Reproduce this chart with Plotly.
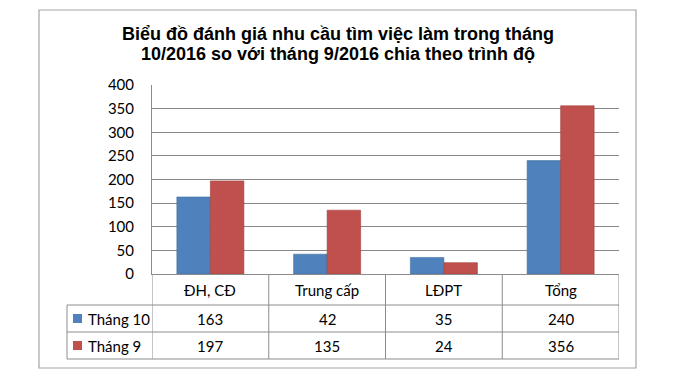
import plotly.graph_objects as go

categories = ["ĐH, CĐ", "Trung cấp", "LĐPT", "Tổng"]
series_names = ["Tháng 10", "Tháng 9"]
thang10 = [163, 42, 35, 240]
thang9 = [197, 135, 24, 356]
y_ticks = [0, 50, 100, 150, 200, 250, 300, 350, 400]
title_lines = ["Biểu đồ đánh giá nhu cầu tìm việc làm trong tháng",
               "10/2016 so với tháng 9/2016 chia theo trình độ"]

colors = ["#4F81BD", "#C0504D"]
line_colors = ["#41719C", "#A0403D"]

W, H = 680, 392
L, R, T, B = 152, 61, 85, 118
PW, PH = W - L - R, H - T - B


def px_x(p):
    return (p - L) / PW


def px_y(p):
    return (H - B - p) / PH


FONT = "Lato, Carlito, Calibri, sans-serif"
GRID = "#878787"
TBL = "#8C8C8C"

fig = go.Figure()
for name, vals, c, lc in zip(series_names, [thang10, thang9], colors, line_colors):
    fig.add_trace(go.Bar(x=categories, y=vals, name=name,
                         marker=dict(color=c, line=dict(color=lc, width=0.6)),
                         showlegend=False))

shapes = []
shapes.append(dict(type="rect", xref="paper", yref="paper",
                   x0=px_x(39), x1=px_x(636), y0=px_y(368), y1=px_y(10),
                   line=dict(color="#A6A6A6", width=1.2), layer="below"))

row_lines = [305, 332, 359]
tbl_left = 67
for ry in row_lines:
    shapes.append(dict(type="line", xref="paper", yref="paper",
                       x0=px_x(tbl_left), x1=1, y0=px_y(ry), y1=px_y(ry),
                       line=dict(color=TBL, width=1)))
for i in range(len(categories) + 1):
    shapes.append(dict(type="line", xref="x", yref="paper",
                       x0=i - 0.5, x1=i - 0.5, y0=px_y(359), y1=0,
                       line=dict(color=TBL, width=1)))
shapes.append(dict(type="line", xref="paper", yref="paper",
                   x0=px_x(tbl_left), x1=px_x(tbl_left), y0=px_y(359), y1=px_y(305),
                   line=dict(color=TBL, width=1)))

annotations = []
for line, cy in zip(title_lines, [34, 54]):
    annotations.append(dict(text="<b>" + line + "</b>", xref="paper", yref="paper",
                            x=px_x(338), y=px_y(cy), xanchor="center", yanchor="middle",
                            showarrow=False, align="center",
                            font=dict(family="Liberation Sans, Arial, sans-serif", size=18,
                                      color="#000000")))

header_c = (274 + 305) / 2
row_cs = [(305 + 332) / 2, (332 + 359) / 2]
for cat in categories:
    annotations.append(dict(text=cat, xref="x", yref="paper", x=cat, y=px_y(header_c),
                            xanchor="center", yanchor="middle", showarrow=False,
                            font=dict(family=FONT, size=15, color="#000000")))
for rc, name, vals, c in zip(row_cs, series_names, [thang10, thang9], colors):
    annotations.append(dict(text=name, xref="paper", yref="paper", x=px_x(86), y=px_y(rc),
                            xanchor="left", yanchor="middle", showarrow=False,
                            font=dict(family=FONT, size=15, color="#000000")))
    shapes.append(dict(type="rect", xref="paper", yref="paper",
                       x0=px_x(73), x1=px_x(82), y0=px_y(rc + 4.5), y1=px_y(rc - 4.5),
                       fillcolor=c, line=dict(width=0)))
    for cat, v in zip(categories, vals):
        annotations.append(dict(text=str(v), xref="x", yref="paper", x=cat, y=px_y(rc),
                                xanchor="center", yanchor="middle", showarrow=False,
                                font=dict(family=FONT, size=15, color="#000000")))

fig.update_layout(
    width=W, height=H,
    margin=dict(l=L, r=R, t=T, b=B, pad=0),
    paper_bgcolor="white", plot_bgcolor="white",
    barmode="group", bargap=0.426, bargroupgap=0,
    shapes=shapes, annotations=annotations,
    font=dict(family=FONT, size=14, color="#000000"),
)
fig.update_xaxes(showticklabels=False, showline=True, linecolor=TBL, linewidth=1,
                 range=[-0.5, 3.5], showgrid=False, ticks="", fixedrange=True)
fig.update_yaxes(range=[0, 400], tickvals=y_ticks, showgrid=True, gridcolor=GRID,
                 gridwidth=1, showline=True, linecolor=TBL, linewidth=1, zeroline=False,
                 ticks="", ticklabelstandoff=14, tickfont=dict(family=FONT, size=15),
                 fixedrange=True)

fig.write_html("out.html")
